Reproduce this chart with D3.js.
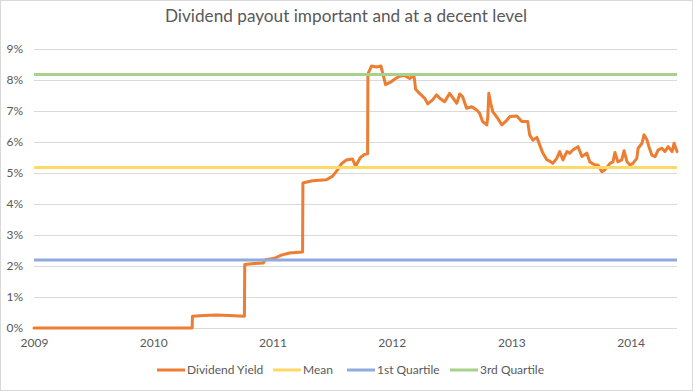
<!DOCTYPE html>
<html>
<head>
<meta charset="utf-8">
<script src="https://cdn.jsdelivr.net/npm/d3@7"></script>
<style>
  html, body { margin: 0; padding: 0; background: #fff; }
  svg { display: block; }
  text { font-family: Lato, "Open Sans", sans-serif; fill: #595959; }
</style>
</head>
<body>
<svg id="chart" width="693" height="391"></svg>
<script>
// ---- Data ----
const title = "Dividend payout important and at a decent level";
const seriesNames = ["Dividend Yield", "Mean", "1st Quartile", "3rd Quartile"];
const seriesColors = ["#ed7d31", "#ffd966", "#8faadc", "#a9d18e"];
const yTicks = [0, 0.01, 0.02, 0.03, 0.04, 0.05, 0.06, 0.07, 0.08, 0.09];
const xTickYears = ["2009", "2010", "2011", "2012", "2013", "2014"];
const dateDomain = ["2009-01-01", "2014-05-23"];

const yieldDates = [
  "2009-01-01","2010-04-30","2010-05-01","2010-06-06","2010-07-13","2010-08-22","2010-10-07","2010-10-08",
  "2010-11-06","2010-12-04","2010-12-10","2011-01-07","2011-01-28","2011-02-22","2011-04-03","2011-04-04",
  "2011-05-03","2011-06-15","2011-07-04","2011-07-19","2011-07-31","2011-08-15","2011-09-03","2011-09-12",
  "2011-09-27","2011-10-10","2011-10-19","2011-10-20","2011-10-31","2011-11-15","2011-11-29","2011-12-13",
  "2011-12-31","2012-01-13","2012-01-25","2012-02-09","2012-02-25","2012-03-09","2012-03-14","2012-03-26",
  "2012-04-11","2012-04-20","2012-05-05","2012-05-17","2012-05-27","2012-06-11","2012-06-26","2012-07-05",
  "2012-07-18","2012-07-27","2012-08-05","2012-08-17","2012-09-02","2012-09-17","2012-09-26","2012-10-05",
  "2012-10-18","2012-10-21","2012-10-24","2012-10-30","2012-11-05","2012-11-20","2012-12-03","2012-12-18",
  "2012-12-27","2013-01-18","2013-02-02","2013-02-20","2013-02-26","2013-03-08","2013-03-20","2013-03-29",
  "2013-04-07","2013-04-20","2013-04-29","2013-05-08","2013-05-20","2013-05-29","2013-06-08","2013-06-20",
  "2013-06-29","2013-07-08","2013-07-24","2013-08-05","2013-08-20","2013-08-29","2013-09-14","2013-09-23",
  "2013-10-05","2013-10-14","2013-10-30","2013-11-08","2013-11-14","2013-11-23","2013-12-05","2013-12-12",
  "2013-12-21","2013-12-30","2014-01-08","2014-01-20","2014-01-24","2014-02-05","2014-02-11","2014-02-20",
  "2014-02-26","2014-03-07","2014-03-17","2014-03-26","2014-04-07","2014-04-16","2014-04-26","2014-05-08",
  "2014-05-14","2014-05-23"
];
const yieldValues = [
  0, 0, 0.38, 0.40, 0.42, 0.40, 0.38, 2.05,
  2.08, 2.10, 2.20, 2.25, 2.35, 2.42, 2.45, 4.68,
  4.75, 4.78, 4.90, 5.10, 5.30, 5.42, 5.45, 5.22,
  5.50, 5.60, 5.62, 8.20, 8.45, 8.42, 8.45, 7.85,
  7.95, 8.05, 8.12, 8.15, 8.05, 8.15, 7.70, 7.57,
  7.41, 7.23, 7.36, 7.52, 7.41, 7.30, 7.57, 7.44,
  7.25, 7.55, 7.46, 7.09, 7.14, 7.03, 6.93, 6.66,
  6.55, 6.82, 7.57, 7.25, 6.98, 6.77, 6.55, 6.70,
  6.82, 6.84, 6.66, 6.66, 6.23, 6.06, 6.15, 5.90,
  5.65, 5.42, 5.38, 5.31, 5.47, 5.69, 5.42, 5.69,
  5.64, 5.74, 5.85, 5.53, 5.64, 5.36, 5.26, 5.26,
  5.04, 5.10, 5.31, 5.36, 5.66, 5.36, 5.42, 5.72,
  5.36, 5.26, 5.31, 5.47, 5.80, 5.96, 6.23, 6.07,
  5.85, 5.58, 5.53, 5.74, 5.80, 5.69, 5.85, 5.69,
  5.96, 5.69
];
const meanValue = 5.18;
const q1Value = 2.19;
const q3Value = 8.18;

// ---- Chart ----
const svg = d3.select("#chart");
const W = 693, H = 391;
const margin = { left: 34, right: 16, top: 49, bottom: 63 };
const parse = d3.timeParse("%Y-%m-%d");

svg.append("rect").attr("x", 0.5).attr("y", 0.5).attr("width", W - 1).attr("height", H - 1)
  .attr("fill", "#fff").attr("stroke", "#d9d9d9");

const x = d3.scaleTime()
  .domain(dateDomain.map(parse))
  .range([margin.left, W - margin.right]);
const y = d3.scaleLinear()
  .domain([0, 0.09])
  .range([H - margin.bottom, margin.top]);

// gridlines + y labels
const yAxis = d3.axisLeft(y).tickValues(yTicks).tickFormat(d3.format(".0%"))
  .tickSize(-(W - margin.right - margin.left)).tickPadding(11);
const gy = svg.append("g").attr("transform", `translate(${margin.left},0)`).call(yAxis);
gy.select(".domain").remove();
gy.selectAll(".tick line").attr("stroke", "#d9d9d9").attr("stroke-width", 1);
gy.selectAll(".tick text").attr("font-size", 12).style("fill", "#595959");

// x labels
const xAxis = d3.axisBottom(x)
  .tickValues(xTickYears.map(yy => parse(yy + "-01-01")))
  .tickFormat(d3.timeFormat("%Y")).tickSize(0).tickPadding(10);
const gx = svg.append("g").attr("transform", `translate(0,${H - margin.bottom})`).call(xAxis);
gx.select(".domain").remove();
gx.selectAll(".tick text").attr("font-size", 12).style("fill", "#595959");

// dividend yield line
const yieldData = yieldDates.map((d, i) => ({ date: parse(d), value: yieldValues[i] / 100 }));
const line = d3.line().x(d => x(d.date)).y(d => y(d.value));
svg.append("path").datum(yieldData)
  .attr("fill", "none").attr("stroke", seriesColors[0]).attr("stroke-width", 3)
  .attr("stroke-linejoin", "round").attr("stroke-linecap", "round")
  .attr("d", line);

// reference lines
[meanValue, q1Value, q3Value].forEach((v, i) => {
  const data = dateDomain.map(d => ({ date: parse(d), value: v / 100 }));
  svg.append("path").datum(data)
    .attr("fill", "none").attr("stroke", seriesColors[i + 1]).attr("stroke-width", 3)
    .attr("d", line);
});

// title
svg.append("text").attr("x", 346).attr("y", 22).attr("text-anchor", "middle")
  .attr("font-size", 17.2).text(title);

// legend (item start positions as in the reference layout)
const legendX = [157, 273, 347, 450];
const lg = svg.append("g").attr("transform", "translate(0,370)");
seriesNames.forEach((name, i) => {
  const g = lg.append("g").attr("transform", `translate(${legendX[i]},0)`);
  g.append("line").attr("x1", 0).attr("x2", 28).attr("y1", 0).attr("y2", 0)
    .attr("stroke", seriesColors[i]).attr("stroke-width", 3);
  g.append("text").attr("x", 30).attr("y", 0).attr("dy", "0.35em")
    .attr("font-size", 12).text(name);
});
</script>
</body>
</html>
